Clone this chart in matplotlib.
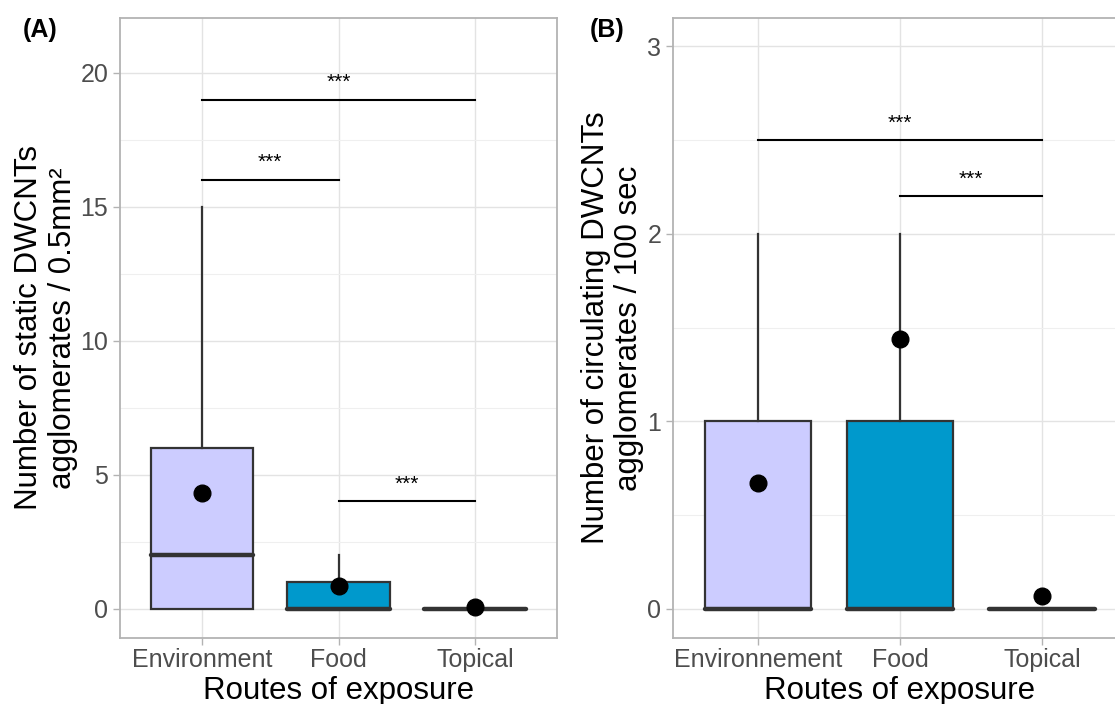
import numpy as np
import matplotlib
matplotlib.use("Agg")
import matplotlib.pyplot as plt
from matplotlib.ticker import MultipleLocator

plt.rcParams['font.family'] = ['Liberation Sans', 'DejaVu Sans']

# ---- data ----
routes_a = ["Environment", "Food", "Topical"]
routes_b = ["Environnement", "Food", "Topical"]
box_colors = ["#CCCCFF", "#0099CC", "#FFFFFF"]

# panel A: static agglomerates / 0.5mm2
a_q1 = [0, 0, 0]
a_med = [2, 0, 0]
a_q3 = [6, 1, 0]
a_whislo = [0, 0, 0]
a_whishi = [15, 2, 0]
a_mean = [4.3, 0.85, 0.07]
# significance brackets: (from, to, height)
a_sig = [(1, 3, 19.0), (1, 2, 16.0), (2, 3, 4.0)]

# panel B: circulating agglomerates / 100 sec
b_q1 = [0, 0, 0]
b_med = [0, 0, 0]
b_q3 = [1, 1, 0]
b_whislo = [0, 0, 0]
b_whishi = [2, 2, 0]
b_mean = [0.67, 1.44, 0.07]
b_sig = [(1, 3, 2.5), (2, 3, 2.2)]

GRID = "#E3E3E3"
BORDER = "#B3B3B3"
DARK = "#333333"


def draw_panel(ax, labels, q1, med, q3, lo, hi, means, sigs, ylim, major, minor, star_off):
    stats = []
    for i in range(len(labels)):
        stats.append(dict(q1=q1[i], med=med[i], q3=q3[i], whislo=lo[i], whishi=hi[i],
                          fliers=[], label=labels[i]))
    pos = np.arange(1, len(labels) + 1)
    bp = ax.bxp(stats, positions=pos, widths=0.75, patch_artist=True, showcaps=False,
                boxprops=dict(edgecolor=DARK, linewidth=1.6),
                medianprops=dict(color=DARK, linewidth=3.2, solid_capstyle='round'),
                whiskerprops=dict(color=DARK, linewidth=1.6), zorder=3)
    for patch, c in zip(bp['boxes'], box_colors):
        patch.set_facecolor(c)
    ax.plot(pos, means, 'o', color='black', markersize=12, zorder=5)

    for x1, x2, h in sigs:
        ax.plot([x1, x2], [h, h], color='black', linewidth=1.5, zorder=4)
        ax.text((x1 + x2) / 2, h + star_off, "***", ha='center', va='bottom', fontsize=15)

    ax.set_xlim(0.4, 3.6)
    ax.set_ylim(*ylim)
    ax.yaxis.set_major_locator(MultipleLocator(major))
    ax.yaxis.set_minor_locator(MultipleLocator(minor))
    ax.set_xticks(pos)
    ax.set_xticklabels(labels)
    ax.grid(True, which='major', color=GRID, linewidth=1.0, zorder=0)
    ax.grid(True, which='minor', color="#EFEFEF", linewidth=0.8, zorder=0)
    ax.set_axisbelow(True)
    ax.tick_params(axis='both', which='major', colors=BORDER, labelcolor="#4D4D4D",
                   labelsize=18, length=5, width=1.0)
    ax.tick_params(axis='x', which='major', pad=2)
    ax.tick_params(axis='both', which='minor', length=0)
    for s in ax.spines.values():
        s.set_color(BORDER)
        s.set_linewidth(1.3)
    ax.set_xlabel("Routes of exposure", fontsize=22.5, labelpad=3)


fig = plt.figure(figsize=(11.15, 7.04), dpi=100)

ax1 = fig.add_axes([0.1076, 0.0938, 0.3920, 0.8806])
draw_panel(ax1, routes_a, a_q1, a_med, a_q3, a_whislo, a_whishi, a_mean, a_sig,
           (-1.1, 22.05), 5, 2.5, 0.3)
ax1.set_ylabel("Number of static DWCNTs\nagglomerates / 0.5mm²", fontsize=22.5, labelpad=2,
               linespacing=1.15)

ax2 = fig.add_axes([0.6036, 0.0938, 0.4072, 0.8806])
draw_panel(ax2, routes_b, b_q1, b_med, b_q3, b_whislo, b_whishi, b_mean, b_sig,
           (-0.155, 3.15), 1, 0.5, 0.04)
ax2.set_ylabel("Number of circulating DWCNTs\nagglomerates / 100 sec", fontsize=22.5, labelpad=2,
               linespacing=1.15)

fig.text(0.020, 0.958, "(A)", fontsize=18, fontweight='bold', va='center')
fig.text(0.529, 0.958, "(B)", fontsize=18, fontweight='bold', va='center')

fig.savefig("out.png", dpi=100)
